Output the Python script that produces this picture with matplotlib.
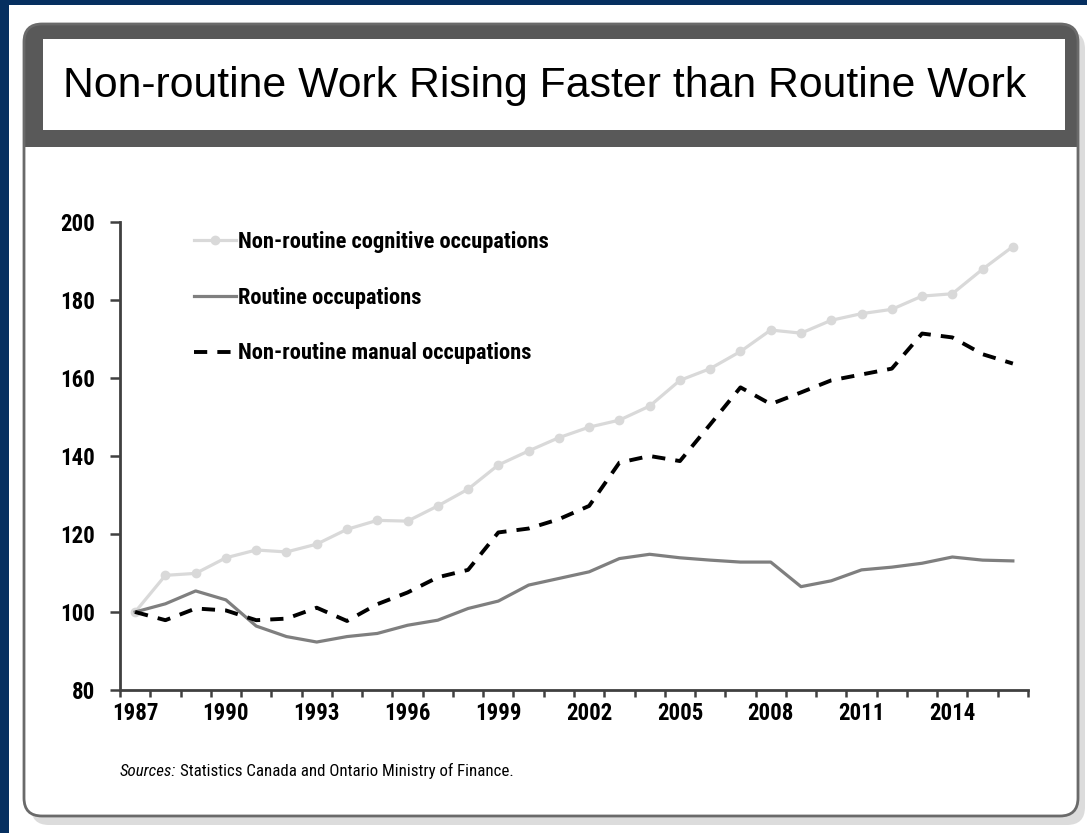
import matplotlib
matplotlib.use("Agg")
import matplotlib.pyplot as plt
from matplotlib.patches import FancyBboxPatch, Rectangle
import numpy as np

# data (index, 1987 = 100)
years = list(range(1987, 2017))
cognitive = [100.0, 109.4, 109.9, 113.9, 115.9, 115.4, 117.4, 121.2, 123.5, 123.3,
             127.2, 131.5, 137.7, 141.3, 144.7, 147.4, 149.2, 152.8, 159.4, 162.4,
             166.8, 172.3, 171.5, 174.8, 176.5, 177.6, 181.0, 181.6, 187.9, 193.7]
routine = [100.0, 102.1, 105.4, 103.1, 96.4, 93.7, 92.3, 93.7, 94.5, 96.6,
           97.9, 100.9, 102.8, 106.9, 108.6, 110.3, 113.7, 114.8, 113.9, 113.3,
           112.8, 112.8, 106.5, 108.0, 110.8, 111.5, 112.5, 114.1, 113.3, 113.1]
manual = [100.0, 97.9, 100.9, 100.4, 97.9, 98.3, 101.1, 97.7, 102.0, 105.0,
          108.9, 110.8, 120.4, 121.4, 123.8, 127.2, 138.3, 140.0, 138.7, 148.1,
          157.6, 153.3, 156.3, 159.4, 160.9, 162.4, 171.4, 170.4, 166.1, 163.7]
labels = ["Non-routine cognitive occupations", "Routine occupations",
          "Non-routine manual occupations"]
title = "Non-routine Work Rising Faster than Routine Work"
source = "Statistics Canada and Ontario Ministry of Finance."

narrow = ["Roboto Condensed", "Liberation Sans", "DejaVu Sans"]

W, H = 1087, 833
fig = plt.figure(figsize=(W / 100, H / 100), dpi=100)
fig.patch.set_facecolor("white")

# background frame drawn in pixel coordinates
bg = fig.add_axes([0, 0, 1, 1])
bg.set_xlim(0, W)
bg.set_ylim(H, 0)
bg.axis("off")

navy = "#062f60"
bg.add_patch(Rectangle((0, 0), 9, H, color=navy, lw=0))
bg.add_patch(Rectangle((0, 0), W, 5, color=navy, lw=0))

rs = "round,pad=0,rounding_size=18"
bg.add_patch(FancyBboxPatch((31, 31), 1054, 794, boxstyle=rs, fc="#dcdcdc", ec="none"))
bg.add_patch(FancyBboxPatch((24, 24), 1054, 792, boxstyle=rs, fc="white", ec="none"))
bg.add_patch(FancyBboxPatch((24, 24), 1054, 170, boxstyle=rs, fc="#595959", ec="none"))
bg.add_patch(Rectangle((25, 147), 1052, 60, fc="white", ec="none"))
bg.add_patch(Rectangle((43, 39), 1022, 91, fc="white", ec="none"))
bg.add_patch(FancyBboxPatch((24, 24), 1054, 792, boxstyle=rs, fc="none", ec="#6a6a6a", lw=2))

bg.text(63, 86, title, fontsize=30.8, family="Liberation Sans", va="center", ha="left")

src1 = bg.text(120, 771, "Sources:", fontsize=12.2, family=narrow, style="italic",
               va="center", ha="left")
fig.canvas.draw()
ext = src1.get_window_extent()
bg.text(ext.x1 + 4, 771, source, fontsize=12.2, family=narrow, va="center", ha="left")

# main chart
ax = fig.add_axes([120 / W, 1 - 690 / H, 908 / W, 468 / H])
ax.set_facecolor("none")
x = np.arange(len(years))
ax.plot(x, cognitive, color="#d9d9d9", lw=2.3, marker="o", ms=6, label=labels[0])
ax.plot(x, routine, color="#7f7f7f", lw=2.3, label=labels[1])
ax.plot(x, manual, color="black", lw=2.8, dashes=(3.4, 2.6), label=labels[2])

ax.set_xlim(-0.5, len(years) - 0.5)
ax.set_ylim(80, 200)
ax.set_yticks(np.arange(80, 201, 20))
ax.set_xticks(np.arange(-0.5, len(years)))
ax.set_xticklabels([])
ax.set_xticks(x[::3], minor=True)
ax.set_xticklabels([str(y) for y in years[::3]], minor=True)
ax.tick_params(axis="x", which="minor", length=0, pad=9)
ax.tick_params(axis="both", which="major", direction="out", width=1.8, color="#404040")
ax.tick_params(axis="x", which="major", length=5)
ax.tick_params(axis="y", which="major", length=7.2, pad=10.8)
for lab in ax.get_xticklabels(minor=True) + ax.get_yticklabels():
    lab.set_fontfamily(narrow)
    lab.set_fontweight("bold")
    lab.set_fontsize(16.5)
for s in ["top", "right"]:
    ax.spines[s].set_visible(False)
for s in ["left", "bottom"]:
    ax.spines[s].set_color("#404040")
    ax.spines[s].set_linewidth(2)

leg = ax.legend(loc="upper left", bbox_to_anchor=(65 / 908, 1.0), frameon=False,
                prop={"family": narrow, "weight": "bold", "size": 16.2},
                handlelength=1.85, handletextpad=0.1, labelspacing=1.5,
                borderaxespad=0.0)

fig.savefig("out.png", dpi=100)
